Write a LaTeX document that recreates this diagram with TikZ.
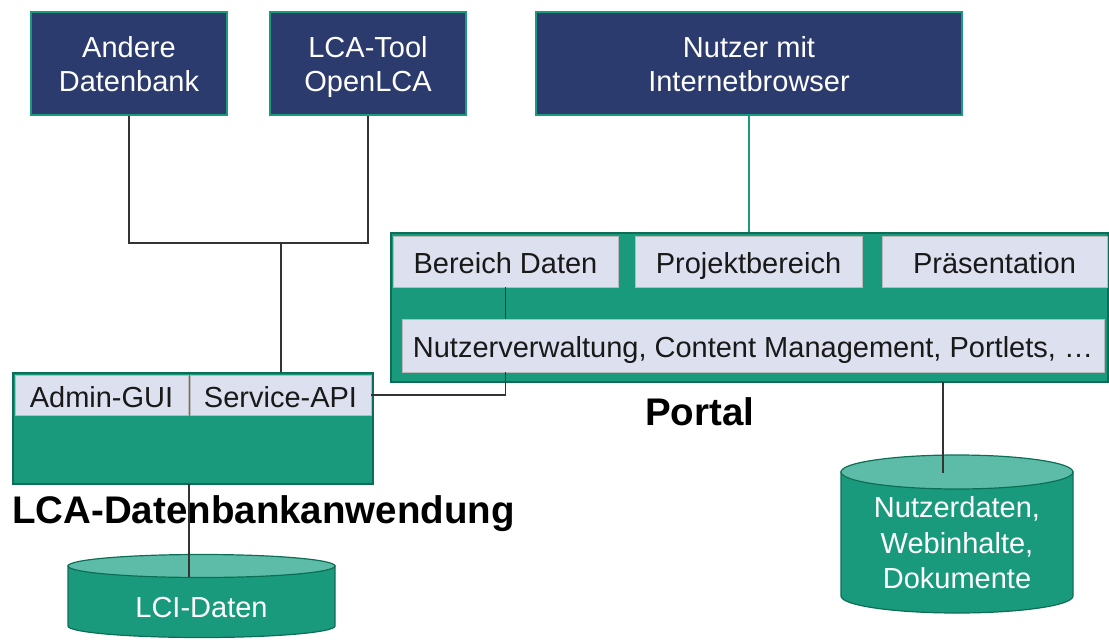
\documentclass[tikz,border=0pt]{standalone}
\usepackage{fontspec}
\setmainfont{Liberation Sans}
\definecolor{navy}{HTML}{2C3B6E}
\definecolor{pgreen}{HTML}{1A9A7C}
\definecolor{dgreen}{HTML}{0E6E55}
\definecolor{lbox}{HTML}{DDE0EE}
\definecolor{ltop}{HTML}{5CBCA8}
\definecolor{cline}{HTML}{333333}
\begin{document}
\begin{tikzpicture}[x=1pt,y=-1pt,
  txt/.style={font=\fontsize{29}{34}\selectfont},
  navybox/.style={txt,draw=pgreen,line width=1.2pt,fill=navy,text=white,align=center,inner sep=0pt,text depth=0pt},
  greenbox/.style={draw=dgreen,line width=1.5pt,fill=pgreen,inner sep=0pt},
  subbox/.style={txt,draw=gray!55,line width=0.8pt,fill=lbox,text=black!90,inner sep=0pt,text height=24pt,text depth=0pt},
  conn/.style={draw=cline,line width=1.2pt},
  gconn/.style={draw=pgreen,line width=1.4pt},
  cyl/.style={draw=dgreen,line width=1.2pt,fill=pgreen},
  cyltop/.style={draw=dgreen,line width=1.2pt,fill=ltop},
  title/.style={font=\fontsize{38.5}{44}\selectfont\bfseries,text=black,inner sep=0pt}
]
\useasboundingbox (0,0) rectangle (1109,640);

% top boxes
\node[navybox,minimum width=196pt,minimum height=103pt] (andere) at (129,63.5) {Andere\\Datenbank};
\node[navybox,minimum width=196pt,minimum height=103pt] (tool) at (368,63.5) {LCA-Tool\\OpenLCA};
\node[navybox,minimum width=426pt,minimum height=103pt] (nutzer) at (749,63.5) {Nutzer mit\\Internetbrowser};

% LCA database application
\node[greenbox,minimum width=360pt,minimum height=111pt] (lca) at (193,428.5) {};
\node[subbox,minimum width=173pt,minimum height=40pt] (admin) at (101.5,395) {Admin-GUI};
\node[subbox,minimum width=181pt,minimum height=40pt] (service) at (280.5,395) {Service-API};
\node[title,anchor=base west] (lcalabel) at (12,523) {LCA-Datenbankanwendung};

% Portal
\node[greenbox,minimum width=717pt,minimum height=149pt] (portal) at (749.5,307.5) {};
\node[subbox,minimum width=225pt,minimum height=51pt] (bereich) at (505.5,261.5) {Bereich Daten};
\node[subbox,minimum width=227pt,minimum height=51pt] (projekt) at (748.5,261.5) {Projektbereich};
\node[subbox,minimum width=225pt,minimum height=51pt] (praes) at (994.5,261.5) {Präsentation};
\node[subbox,minimum width=702pt,minimum height=53pt] (nutzv) at (753,345.5) {Nutzerverwaltung, Content Management, Portlets, \dots};
\node[title,anchor=base west] (portallabel) at (645,425) {Portal};

% cylinders
\path[cyl] (68,566) -- (68,626) arc (180:360:133.5pt and 11.5pt) -- (335,566) -- cycle;
\path[cyltop] (201.5,566) ellipse (133.5pt and 11.5pt);
\node[txt,text=white] (lci) at (201.5,608) {LCI-Daten};

\path[cyl] (841,472) -- (841,596) arc (180:360:116pt and 17pt) -- (1073,472) -- cycle;
\path[cyltop] (957,472) ellipse (116pt and 17pt);
\node[font=\fontsize{29}{35.5}\selectfont,text=white,align=center] (ndata) at (957,543) {Nutzerdaten,\\Webinhalte,\\Dokumente};

% connectors
\coordinate (bus) at (281,243);
\draw[conn] (andere.south) |- (bus) -| (tool.south);
\draw[conn] (bus) -- (bus |- lca.north);
\draw[gconn] (nutzer.south) -- (portal.north -| nutzer.south);
\draw[conn] (bereich.south) -- (bereich.south |- nutzv.north);
\draw[conn] (bereich.south |- nutzv.south) |- (service.east);
\coordinate (lcadown) at (189,484);
\coordinate (lcitop) at (189,577);
\draw[conn] (lcadown) -- (lcitop);
\coordinate (portaldown) at (943,382);
\coordinate (ndatatop) at (943,473);
\draw[conn] (portaldown) -- (ndatatop);
\end{tikzpicture}
\end{document}
